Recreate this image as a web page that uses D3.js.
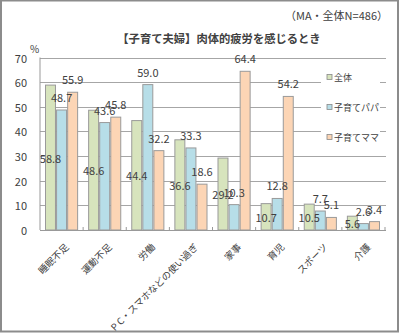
<!DOCTYPE html>
<html><head><meta charset="utf-8">
<script src="https://cdn.jsdelivr.net/npm/d3@7/dist/d3.min.js"></script>
<style>body{margin:0;background:#fff}svg{display:block}text{font-family:"Noto Sans CJK JP","Noto Sans",sans-serif;fill:#404040}</style>
</head><body><svg id="c" width="400" height="333"></svg>
<script>
const categories = ["睡眠不足","運動不足","労働","P C・スマホなどの使い過ぎ","家事","育児","スポーツ","介護"];
const seriesNames = ["全体","子育てパパ","子育てママ"];
const zentai = [58.8,48.6,44.4,36.6,29.2,10.7,10.5,5.6];
const papa   = [48.7,43.6,59.0,33.3,10.3,12.8,7.7,2.6];
const mama   = [55.9,45.8,32.2,18.6,64.4,54.2,5.1,3.4];
const yTicks = [0,10,20,30,40,50,60,70];
const colors = ["#d7e4bd","#b7dee8","#fcd5b5"];
const seriesValues = [zentai, papa, mama];

const svg = d3.select("#c");
svg.append("rect").attr("x",1).attr("y",0.5).attr("width",397).attr("height",331)
  .attr("fill","#fff").attr("stroke","#8c8c8c").attr("stroke-width",2);

const L=40, R=385, T=57.5, B=230;
const y = d3.scaleLinear().domain([0,70]).range([B,T]);
const x0 = d3.scaleBand().domain(categories).range([L,R]);
const bw = x0.bandwidth();
const x1 = d3.scaleBand().domain(seriesNames).range([5.5,bw-5.5]).paddingInner(0.1);

// gridlines
svg.append("g").selectAll("line").data(yTicks.filter(t=>t>0)).join("line")
  .attr("x1",L).attr("x2",R+1).attr("y1",d=>Math.round(y(d))+0.5).attr("y2",d=>Math.round(y(d))+0.5)
  .attr("stroke","#a6a6a6").attr("stroke-width",1);

// legend background box (covers gridlines)
svg.append("rect").attr("x",321).attr("y",62).attr("width",59).attr("height",86).attr("fill","#fff");

// bars
const rows = categories.map((c,i)=>({c, vals: seriesNames.map((s,j)=>({s, j, v: seriesValues[j][i]}))}));
const g = svg.append("g").selectAll("g").data(rows).join("g")
  .attr("transform",d=>`translate(${x0(d.c)},0)`);
g.selectAll("rect").data(d=>d.vals).join("rect")
  .attr("x",d=>x1(d.s)).attr("width",x1.bandwidth())
  .attr("y",d=>y(d.v)).attr("height",d=>B-y(d.v))
  .attr("fill",d=>colors[d.j]).attr("stroke","#9a9a9a").attr("stroke-width",1);

// axes
svg.append("line").attr("x1",L).attr("x2",L).attr("y1",T).attr("y2",B).attr("stroke","#999");
svg.append("line").attr("x1",L).attr("x2",R+1).attr("y1",B+0.5).attr("y2",B+0.5).attr("stroke","#999");
svg.append("g").selectAll("line").data(categories.slice(1).concat(["__end"])).join("line")
  .attr("x1",(d,i)=>L+bw*(i+1)).attr("x2",(d,i)=>L+bw*(i+1))
  .attr("y1",B-3).attr("y2",B).attr("stroke","#999");

// y tick labels
svg.append("g").selectAll("text").data(yTicks).join("text")
  .attr("x",27).attr("y",d=>y(d)).attr("text-anchor","end").attr("dominant-baseline","central")
  .attr("font-size",11).text(d=>d);
svg.append("text").attr("x",30).attr("y",53).attr("font-size",10).text("%");

// x labels
svg.append("g").selectAll("text").data(categories).join("text")
  .attr("transform",d=>`translate(${x0(d)+bw/2+5},245) rotate(-45)`)
  .attr("text-anchor","end").attr("dominant-baseline","central")
  .attr("font-size",9.5).text(d=>d);

// data labels
g.selectAll("text").data(d=>d.vals).join("text")
  .attr("x",d=>x1(d.s)+x1.bandwidth()/2)
  .attr("y",d=> d.j===0 ? y(d.v/2) : y(d.v)-13)
  .attr("text-anchor","middle").attr("dominant-baseline","central")
  .attr("font-size",11).text(d=>d.v.toFixed(1));

// legend
const lg = svg.append("g").selectAll("g").data(seriesNames).join("g")
  .attr("transform",(d,i)=>`translate(327,${77+i*30})`);
lg.append("rect").attr("x",0).attr("y",-2.5).attr("width",5).attr("height",5)
  .attr("fill",(d,i)=>colors[i]).attr("stroke","#888").attr("stroke-width",0.8);
lg.append("text").attr("x",7).attr("y",0).attr("dominant-baseline","central")
  .attr("font-size",9).text(d=>d);

// titles
svg.append("text").attr("x",219).attr("y",38).attr("text-anchor","middle").attr("dominant-baseline","central")
  .attr("font-size",11.3).attr("font-weight","bold").attr("fill","#222").text("【子育て夫婦】肉体的疲労を感じるとき");
svg.append("text").attr("x",388).attr("y",15).attr("text-anchor","end").attr("dominant-baseline","central")
  .attr("font-size",11).text("（MA・全体N=486）");
</script></body></html>
